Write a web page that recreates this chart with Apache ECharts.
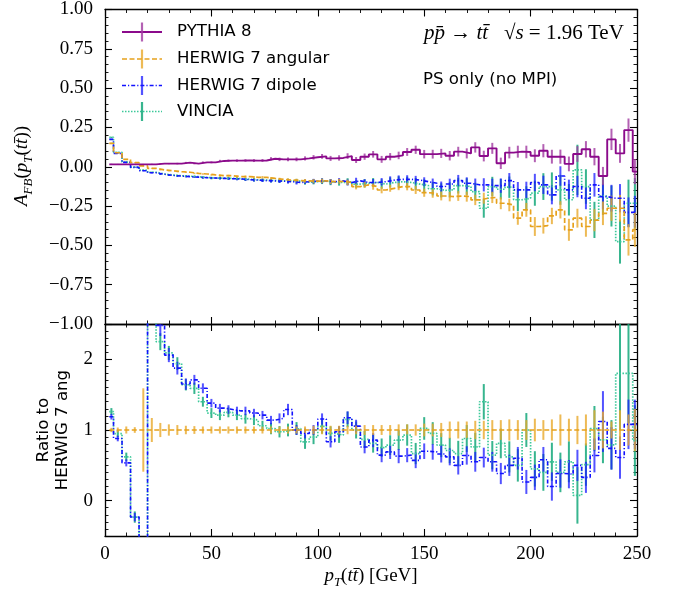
<!DOCTYPE html>
<html><head><meta charset="utf-8">
<script src="https://cdn.jsdelivr.net/npm/echarts@6/dist/echarts.min.js"></script>
<style>html,body{margin:0;padding:0;background:#fff}#c{width:673px;height:597px}</style>
</head><body><div id="c"></div>
<script>
// ---------- data ----------
const binEdges = [2,4,8,12,16,20,24,28,32,36,40,44,48,52,56,60,64,68,72,76,80,84,88,92,96,100,104,108,112,116,120,124,128,132,136,140,144,148,152,156,160,164,168,172,176,180,184,188,192,196,200,204,208,212,216,220,224,228,232,236,240,244,248,250];

const pythia = [0.015,0.015,0.015,0.015,0.015,0.015,
 0.020,0.020,0.020,0.026,0.020,0.028,0.028,
 0.037,0.039,0.039,0.040,0.039,0.040,0.051,
 0.047,0.047,0.047,0.053,0.060,0.066,0.053,0.056,0.068,0.043,
 0.064,0.079,0.047,0.064,0.072,0.094,0.108,0.080,0.080,0.085,
 0.070,0.096,0.085,0.123,0.068,0.117,0.022,0.090,0.096,0.094,
 0.070,0.102,0.064,0.064,0.018,0.081,0.111,0.064,-0.059,0.174,
 0.085,0.233,-0.031];
const pythiaErr = [0.004,0.003,0.003,0.003,0.003,0.004, 0.004,0.004,0.005,0.005,0.005,0.006,0.006,
 0.007,0.007,0.008,0.008,0.009,0.009,0.010, 0.011,0.012,0.012,0.013,0.014,0.015,0.016,0.017,0.018,0.019,
 0.020,0.021,0.022,0.023,0.024,0.025,0.026,0.027,0.028,0.029, 0.030,0.031,0.032,0.033,0.034,0.035,0.036,0.037,0.038,0.040,
 0.041,0.042,0.044,0.045,0.047,0.050,0.052,0.055,0.058,0.068, 0.060,0.074,0.080];

const herwigAng = [0.149,0.089,0.047,0.026,0.005,-0.010,
 -0.021,-0.025,-0.031,-0.035,-0.042,-0.046,-0.052,
 -0.057,-0.057,-0.063,-0.063,-0.067,-0.067,-0.074,
 -0.080,-0.085,-0.088,-0.090,-0.092,-0.090,-0.095,-0.093,-0.100,-0.126,
 -0.115,-0.126,-0.148,-0.137,-0.126,-0.126,-0.148,-0.165,-0.170,-0.186,
 -0.190,-0.186,-0.190,-0.211,-0.200,-0.195,-0.232,-0.243,-0.327,-0.274,
 -0.380,-0.375,-0.313,-0.274,-0.401,-0.327,-0.380,-0.340,-0.296,-0.264,
 -0.264,-0.465,-0.400];
const herwigAngErr = [0.004,0.003,0.003,0.003,0.003,0.003, 0.003,0.004,0.004,0.004,0.005,0.005,0.005,
 0.006,0.006,0.007,0.007,0.008,0.008,0.009, 0.010,0.011,0.011,0.012,0.013,0.014,0.015,0.016,0.017,0.018,
 0.019,0.020,0.021,0.022,0.023,0.024,0.025,0.026,0.027,0.028, 0.030,0.031,0.032,0.033,0.035,0.036,0.038,0.040,0.042,0.044,
 0.060,0.050,0.052,0.055,0.070,0.060,0.065,0.070,0.075,0.080, 0.085,0.100,0.110];

const herwigDip = [0.174,0.085,0.028,-0.004,-0.025,-0.038,
 -0.048,-0.055,-0.059,-0.063,-0.066,-0.070,-0.072,
 -0.074,-0.076,-0.078,-0.082,-0.085,-0.088,-0.090,
 -0.092,-0.095,-0.100,-0.095,-0.092,-0.090,-0.095,-0.090,-0.100,-0.090,
 -0.100,-0.100,-0.095,-0.085,-0.080,-0.080,-0.085,-0.095,-0.105,-0.126,
 -0.110,-0.088,-0.105,-0.115,-0.115,-0.120,-0.120,-0.088,-0.147,-0.147,
 -0.100,-0.115,-0.179,-0.059,-0.147,-0.126,-0.200,-0.115,-0.190,-0.200,
 -0.200,-0.290,-0.285];
const herwigDipErr = [0.004,0.003,0.003,0.003,0.003,0.004, 0.004,0.004,0.005,0.005,0.005,0.006,0.006,
 0.007,0.007,0.008,0.008,0.009,0.009,0.010, 0.011,0.012,0.013,0.014,0.015,0.016,0.017,0.018,0.019,0.020,
 0.021,0.022,0.023,0.024,0.025,0.026,0.027,0.028,0.030,0.032, 0.034,0.036,0.038,0.040,0.042,0.044,0.046,0.048,0.050,0.052,
 0.055,0.058,0.060,0.062,0.065,0.068,0.070,0.075,0.080,0.085, 0.090,0.095,0.100];

const vincia = [0.187,0.092,0.030,-0.002,-0.022,-0.035,
 -0.046,-0.053,-0.057,-0.060,-0.063,-0.068,-0.072,
 -0.072,-0.074,-0.076,-0.080,-0.083,-0.085,-0.088,
 -0.090,-0.090,-0.092,-0.098,-0.095,-0.092,-0.098,-0.100,-0.095,-0.110,
 -0.105,-0.100,-0.110,-0.100,-0.095,-0.100,-0.110,-0.120,-0.140,-0.150,
 -0.147,-0.120,-0.126,-0.158,-0.264,-0.126,-0.143,-0.130,-0.210,-0.200,
 -0.168,-0.126,-0.126,-0.147,-0.210,-0.020,-0.126,-0.338,-0.186,-0.250,
 -0.476,-0.232,-0.232];
const vinciaErr = [0.004,0.003,0.003,0.003,0.004,0.004, 0.005,0.005,0.006,0.006,0.007,0.007,0.008,
 0.008,0.009,0.009,0.010,0.011,0.011,0.012, 0.013,0.014,0.015,0.016,0.017,0.018,0.019,0.020,0.022,0.024,
 0.026,0.028,0.030,0.032,0.034,0.036,0.038,0.040,0.042,0.045, 0.048,0.050,0.053,0.056,0.060,0.062,0.065,0.068,0.072,0.076,
 0.080,0.085,0.090,0.095,0.100,0.160,0.110,0.115,0.120,0.130, 0.140,0.150,0.160];

// ratio panel (to HERWIG 7 angular)
const herwigAngRatio = [1,1,1,1,1,1, 1,1,1,1,1,1,1, 1,1,1,1,1,1,1, 1,1,1,1,1,1,1,1,1,1,
 1,1,1,1,1,1,1,1,1,1, 1,1,1,1,1,1,1,1,1,1, 1,1,1,1,1,1,1,1,1,1, 1,1,1];
const herwigAngRatioErr = [0.03,0.035,0.05,0.04,0.59,0.17, 0.10,0.08,0.07,0.06,0.055,0.05,0.05,
 0.05,0.05,0.05,0.05,0.05,0.05,0.05, 0.05,0.05,0.05,0.05,0.06,0.06,0.06,0.06,0.06,0.06,
 0.07,0.07,0.07,0.07,0.08,0.08,0.08,0.09,0.09,0.10, 0.12,0.12,0.12,0.13,0.13,0.14,0.14,0.15,0.14,0.14,
 0.16,0.14,0.15,0.22,0.16,0.20,0.22,0.28,0.26,0.12, 0.28,0.22,0.30];
const herwigDipRatio = [1.188,0.88,0.535,-0.232,-3.5,4.5,
 2.48,2.06,1.875,1.65,1.71,1.59,1.38,
 1.31,1.29,1.27,1.27,1.24,1.21,1.14,
 1.165,1.29,1.0,0.95,1.0,1.155,0.833,0.975,1.174,1.055,
 0.76,0.857,0.644,0.69,0.63,0.644,0.57,0.70,0.69,0.66,
 0.62,0.50,0.64,0.55,0.61,0.55,0.384,0.50,0.60,0.265,
 0.33,0.58,0.20,0.384,0.375,0.50,0.33,0.64,1.12,0.74,
 0.61,1.08,1.08];
const herwigDipRatioErr = [0.04,0.04,0.05,0.06,0.5,0.5, 0.15,0.1,0.09,0.08,0.07,0.07,0.06,
 0.06,0.06,0.06,0.06,0.06,0.06,0.06, 0.07,0.08,0.07,0.07,0.07,0.08,0.08,0.08,0.09,0.09,
 0.09,0.1,0.1,0.1,0.1,0.1,0.11,0.11,0.11,0.12, 0.12,0.13,0.13,0.14,0.14,0.14,0.15,0.15,0.16,0.17,
 0.18,0.18,0.2,0.2,0.2,0.22,0.22,0.24,0.43,0.3, 0.3,0.35,0.35];
const vinciaRatio = [1.26,0.95,0.62,-0.232,-3.5,4.5,
 2.25,2.09,1.94,1.64,1.59,1.40,1.24,
 1.21,1.25,1.21,1.16,1.14,1.06,1.02,
 0.975,1.0,1.022,0.833,0.90,1.05,0.951,0.928,1.15,1.0,
 0.866,0.81,0.75,0.786,0.857,0.928,0.667,1.022,0.951,0.786,
 0.71,0.667,0.88,0.76,1.40,0.644,0.81,0.62,0.50,1.0,
 0.45,0.40,0.55,0.40,0.55,0.075,0.51,1.02,0.86,0.79,
 1.80,1.80,0.85];
const vinciaRatioErr = [0.05,0.05,0.06,0.08,0.5,0.5, 0.12,0.1,0.09,0.08,0.08,0.07,0.07,
 0.07,0.07,0.07,0.07,0.07,0.07,0.08, 0.08,0.09,0.09,0.1,0.1,0.1,0.1,0.11,0.11,0.12,
 0.12,0.13,0.13,0.14,0.14,0.15,0.15,0.16,0.16,0.17, 0.18,0.18,0.19,0.2,0.25,0.2,0.21,0.22,0.23,0.24,
 0.25,0.26,0.27,0.28,0.29,0.4,0.3,0.32,0.33,0.35, 0.8,0.7,0.5];

const seriesNames = ['PYTHIA 8','HERWIG 7 angular','HERWIG 7 dipole','VINCIA'];
const ratioTicks = [0,1,2];

// ---------- styles ----------
const STY = {
  py:  {line:'#8b0a8b', bar:'#a03aa0', w:1.9, dash:'solid', op:0.8},
  ang: {line:'#e6a11c', bar:'#e9a92a', w:1.7, dash:[5,2.5], op:0.8},
  dip: {line:'#1212ff', bar:'#1a1aff', w:1.6, dash:[4,2,1.2,2], op:0.75},
  vin: {line:'#3cc99a', bar:'#14a87a', w:1.7, dash:[1.5,1.5], op:0.85}
};

function stepData(vals){
  const d = [];
  for (let i = 0; i < vals.length; i++) d.push([binEdges[i], vals[i]]);
  d.push([binEdges[vals.length], vals[vals.length-1]]);
  return d;
}
function errData(vals, errs){
  return vals.map((v,i)=>[(binEdges[i]+binEdges[i+1])/2, v-errs[i], v+errs[i]]);
}
function stepSeries(vals, s, xi, yi){
  return {type:'line', xAxisIndex:xi, yAxisIndex:yi, data:stepData(vals), step:'end',
    symbol:'none', showSymbol:false, clip:true, silent:true, animation:false,
    lineStyle:{color:s.line, width:s.w, type:s.dash}};
}
function errSeries(vals, errs, s, xi, yi){
  return {type:'custom', xAxisIndex:xi, yAxisIndex:yi, data:errData(vals,errs),
    encode:{x:0, y:[1,2]}, silent:true, animation:false,
    renderItem(params, api){
      const cs = params.coordSys;
      const x = api.value(0);
      const p1 = api.coord([x, api.value(1)]), p2 = api.coord([x, api.value(2)]);
      let yb = Math.max(p1[1], p2[1]), yt = Math.min(p1[1], p2[1]);
      const top = cs.y, bot = cs.y + cs.height;
      if (yt > bot || yb < top) return null;
      yb = Math.min(yb, bot); yt = Math.max(yt, top);
      return {type:'line', shape:{x1:p1[0], y1:yb, x2:p1[0], y2:yt},
        style:{stroke:s.bar, lineWidth:2, opacity:s.op}};
    }};
}

const SERIF = 'Liberation Serif';
const SANS = 'DejaVu Sans';
const majorTick = {show:true, inside:true, length:7, lineStyle:{color:'#000', width:1.1}};
const minorTickA = {show:true, inside:true, length:3.5, lineStyle:{color:'#000', width:0.9}};
const lineOn = {show:true, onZero:false, lineStyle:{color:'#000', width:1.3}};
const lineOff = {show:false, onZero:false};
const labelStyle = {color:'#000', fontFamily:SERIF, fontSize:19};

function xAx(grid, pos, minor, labels){
  return {type:'value', gridIndex:grid, position:pos, min:0, max:250, interval: minor ? 10 : 50,
    axisLine: minor ? lineOff : lineOn, axisTick: minor ? minorTickA : majorTick,
    splitLine:{show:false},
    axisLabel: labels ? Object.assign({show:true, margin:9}, labelStyle) : {show:false}};
}
function yTopAx(pos, minor, labels){
  return {type:'value', gridIndex:0, position:pos, min:-1, max:1, interval: minor ? 0.05 : 0.25,
    axisLine: minor ? lineOff : lineOn, axisTick: minor ? minorTickA : majorTick,
    splitLine:{show:false},
    axisLabel: labels ? Object.assign({show:true, margin:12,
      formatter:v => (v < 0 ? '\u2212' : '') + Math.abs(v).toFixed(2)}, labelStyle) : {show:false}};
}
function yBotAx(pos, minor, labels){
  return {type:'value', gridIndex:1, position:pos, min:-0.5, max:2.5, interval: minor ? 0.1 : 0.5,
    axisLine: minor ? lineOff : lineOn,
    axisTick: minor ? minorTickA : Object.assign({}, majorTick, {customValues:ratioTicks}),
    splitLine:{show:false},
    axisLabel: labels ? Object.assign({show:true, margin:12, customValues:ratioTicks,
      formatter:v => Number.isInteger(v) ? String(v) : ''}, labelStyle) : {show:false}};
}

const option = {
  animation:false,
  backgroundColor:'#fff',
  grid: [
    {left:105, top:9, width:532, height:315},
    {left:105, top:324, width:532, height:212}
  ],
  xAxis: [xAx(0,'bottom',false,false), xAx(0,'top',false,false), xAx(1,'bottom',false,true), xAx(1,'top',false,false),
          xAx(0,'bottom',true,false), xAx(0,'top',true,false), xAx(1,'bottom',true,false), xAx(1,'top',true,false)],
  yAxis: [yTopAx('left',false,true), yTopAx('right',false,false), yBotAx('left',false,true), yBotAx('right',false,false),
          yTopAx('left',true,false), yTopAx('right',true,false), yBotAx('left',true,false), yBotAx('right',true,false)],
  series: [
    // top panel
    errSeries(vincia, vinciaErr, STY.vin, 0, 0),
    stepSeries(vincia, STY.vin, 0, 0),
    errSeries(herwigDip, herwigDipErr, STY.dip, 0, 0),
    stepSeries(herwigDip, STY.dip, 0, 0),
    errSeries(herwigAng, herwigAngErr, STY.ang, 0, 0),
    stepSeries(herwigAng, STY.ang, 0, 0),
    errSeries(pythia, pythiaErr, STY.py, 0, 0),
    stepSeries(pythia, STY.py, 0, 0),
    // ratio panel
    errSeries(vinciaRatio, vinciaRatioErr, STY.vin, 2, 2),
    stepSeries(vinciaRatio, STY.vin, 2, 2),
    errSeries(herwigDipRatio, herwigDipRatioErr, STY.dip, 2, 2),
    stepSeries(herwigDipRatio, STY.dip, 2, 2),
    errSeries(herwigAngRatio, herwigAngRatioErr, STY.ang, 2, 2),
    stepSeries(herwigAngRatio, STY.ang, 2, 2)
  ],
  graphic: []
};

// legend (matplotlib-like)
const legendKeys = ['py','ang','dip','vin'];
const legendY = [32, 59, 85.5, 111.5];
legendKeys.forEach((k, i) => {
  const s = STY[k], y = legendY[i];
  option.graphic.push({type:'line', silent:true, shape:{x1:122, y1:y, x2:162, y2:y},
    style:{stroke:s.line, lineWidth:s.w, lineDash: s.dash === 'solid' ? null : s.dash}});
  option.graphic.push({type:'line', silent:true, shape:{x1:142, y1:y-9.5, x2:142, y2:y+9.5},
    style:{stroke:s.bar, lineWidth:2.2, opacity:s.op}});
  option.graphic.push({type:'text', silent:true, x:177, y:y,
    style:{text:seriesNames[i], fill:'#000', font:'16.6px "' + SANS + '"', verticalAlign:'middle', textVerticalAlign:'middle'}});
});

const mathRich = {
  m:{fontFamily:SERIF, fontStyle:'italic', fontSize:19, lineHeight:26, fill:'#000'},
  r:{fontFamily:SERIF, fontSize:19, lineHeight:26, fill:'#000'},
  s:{fontFamily:SERIF, fontStyle:'italic', fontSize:13, verticalAlign:'bottom', fill:'#000'}
};
const procRich = {
  m:{fontFamily:SERIF, fontStyle:'italic', fontSize:21, lineHeight:28, fill:'#000'},
  r:{fontFamily:SERIF, fontSize:21, lineHeight:28, fill:'#000'}
};
// process label
option.graphic.push({type:'text', silent:true, x:424, y:33,
  style:{text:'{m|pp\u0304}{r| \u2192 }{m|tt\u0304}{r|   \u221A}{m|s}{r| = 1.96 TeV}', rich:procRich,
    verticalAlign:'middle', textVerticalAlign:'middle'}});
option.graphic.push({type:'text', silent:true, x:423, y:80,
  style:{text:'PS only (no MPI)', fill:'#000', font:'16.6px "' + SANS + '"', verticalAlign:'middle', textVerticalAlign:'middle'}});
// y axis titles
option.graphic.push({type:'text', silent:true, x:22, y:166, rotation:Math.PI/2,
  style:{text:'{m|A}{s|FB}{r|(}{m|p}{s|T}{r|(}{m|tt\u0304}{r|))}', rich:mathRich,
    align:'center', textAlign:'center', verticalAlign:'middle', textVerticalAlign:'middle'}});
option.graphic.push({type:'text', silent:true, x:53, y:430, rotation:Math.PI/2,
  style:{text:'Ratio to\nHERWIG 7 ang', fill:'#000', font:'16.6px "' + SANS + '"', lineHeight:19,
    align:'center', textAlign:'center', verticalAlign:'middle', textVerticalAlign:'middle'}});
// x axis title
option.graphic.push({type:'text', silent:true, x:371, y:576,
  style:{text:'{m|p}{s|T}{r|(}{m|tt\u0304}{r|) [GeV]}', rich:mathRich,
    align:'center', textAlign:'center', verticalAlign:'middle', textVerticalAlign:'middle'}});

const chart = echarts.init(document.getElementById('c'), null, {renderer:'canvas'});
chart.setOption(option);
</script>
</body></html>
